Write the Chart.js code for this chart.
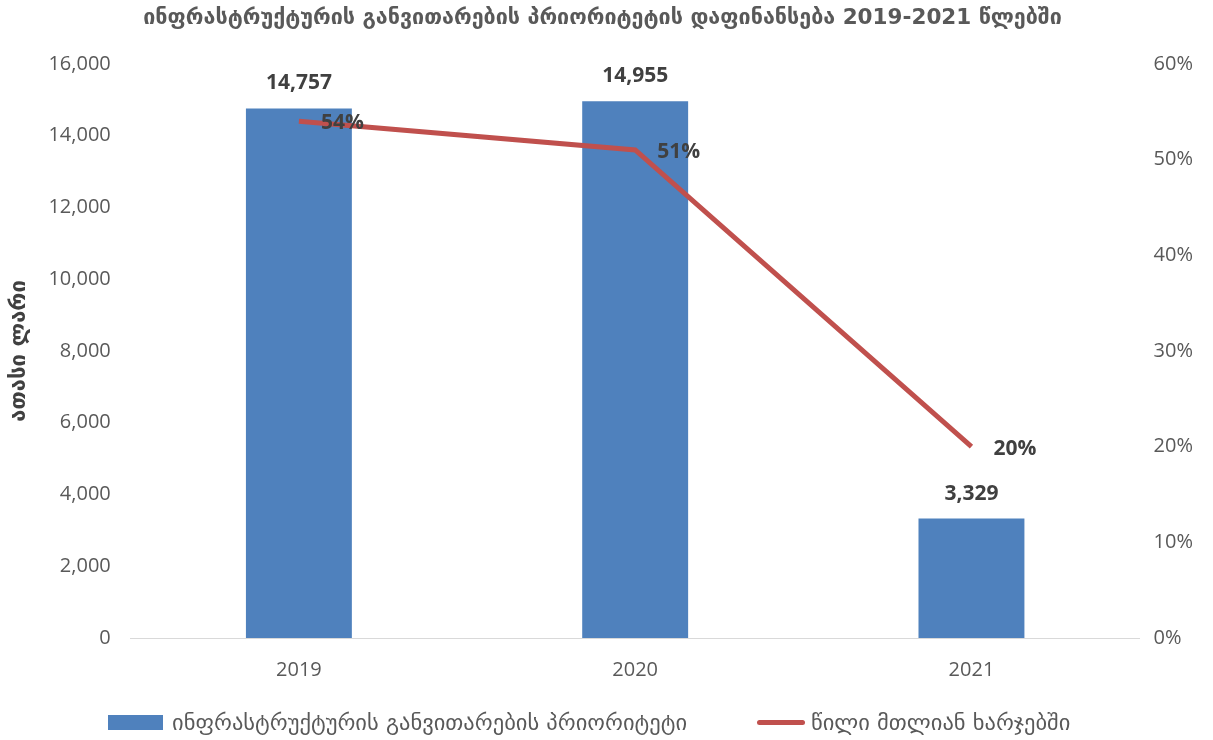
<!DOCTYPE html>
<html lang="ka">
<head>
<meta charset="UTF-8">
<title>ინფრასტრუქტურის პრიორიტეტი</title>
<script src="https://cdn.jsdelivr.net/npm/chart.js"></script>
<style>
    html, body { margin: 0; height: 100%; background: #fff; }
    #wrap { position: relative; width: 1213px; height: 740px; }
    #legend { position: absolute; top: 708px; left: 0; width: 1213px; font-family: 'DejaVu Sans', sans-serif; font-size: 22.5px; color: #595959; }
    .item { position: absolute; top: 0; display: flex; align-items: center; height: 28px; }
    .box { display: inline-block; width: 55px; height: 15px; background: #4F81BD; margin-right: 9px; }
    .ln { display: inline-block; width: 48px; height: 5px; border-radius: 3px; background: #C0504D; margin-right: 6px; }
</style>
</head>
<body>
<div id="wrap">
    <canvas id="chart" width="1213" height="740"></canvas>
    <div id="legend">
        <div class="item" style="left:108px"><span class="box"></span>ინფრასტრუქტურის განვითარების პრიორიტეტი</div>
        <div class="item" style="left:757px"><span class="ln"></span>წილი მთლიან ხარჯებში</div>
    </div>
</div>
<script>
    const years = ['2019', '2020', '2021'];
    const funding = [14757, 14955, 3329];          // ათასი ლარი
    const shareOfTotal = [0.54, 0.51, 0.20];       // წილი მთლიან ხარჯებში

    const labelFont = "bold 21px 'Open Sans', 'Liberation Sans', sans-serif";

    const valueLabels = {
        id: 'valueLabels',
        afterDatasetsDraw(chart) {
            const ctx = chart.ctx;
            ctx.save();
            ctx.font = labelFont;
            ctx.fillStyle = '#404040';
            ctx.textBaseline = 'middle';
            chart.getDatasetMeta(0).data.forEach((bar, i) => {
                ctx.textAlign = 'center';
                ctx.fillText(funding[i].toLocaleString('en-US'), bar.x, bar.y - 25);
            });
            chart.getDatasetMeta(1).data.forEach((pt, i) => {
                ctx.textAlign = 'left';
                ctx.fillText(Math.round(shareOfTotal[i] * 100) + '%', pt.x + 22, pt.y + 2);
            });
            ctx.restore();
        }
    };

    const tickFont = { family: "'Open Sans', 'Liberation Sans', sans-serif", size: 20 };

    new Chart(document.getElementById('chart').getContext('2d'), {
        type: 'bar',
        data: {
            labels: years,
            datasets: [{
                label: 'ინფრასტრუქტურის განვითარების პრიორიტეტი',
                data: funding,
                backgroundColor: '#4F81BD',
                barPercentage: 0.315,
                categoryPercentage: 1,
                yAxisID: 'y',
                order: 2
            }, {
                type: 'line',
                label: 'წილი მთლიან ხარჯებში',
                data: shareOfTotal,
                borderColor: '#C0504D',
                borderWidth: 5,
                pointRadius: 0,
                tension: 0,
                yAxisID: 'y1',
                order: 1
            }]
        },
        options: {
            responsive: false,
            animation: false,
            layout: { padding: { left: 6, right: 14, top: 0, bottom: 38 } },
            plugins: {
                legend: { display: false },
                tooltip: { enabled: false },
                title: {
                    display: true,
                    text: 'ინფრასტრუქტურის განვითარების პრიორიტეტის დაფინანსება 2019-2021 წლებში',
                    color: '#595959',
                    font: { family: "'DejaVu Sans', sans-serif", size: 21.5, weight: 'bold' },
                    padding: { top: 6, bottom: 32 }
                }
            },
            scales: {
                x: {
                    grid: { display: false, drawTicks: false },
                    border: { color: '#D9D9D9', width: 1 },
                    ticks: { color: '#595959', font: tickFont, padding: 20 }
                },
                y: {
                    position: 'left',
                    min: 0, max: 16000,
                    grid: { display: false },
                    border: { display: false },
                    ticks: { stepSize: 2000, color: '#595959', font: tickFont, padding: 12,
                        callback: v => v.toLocaleString('en-US') },
                    title: {
                        display: true,
                        text: 'ათასი ლარი',
                        color: '#404040',
                        font: { family: "'DejaVu Sans', sans-serif", size: 22, weight: 'bold' },
                        padding: { top: 0, bottom: 4 }
                    }
                },
                y1: {
                    position: 'right',
                    min: 0, max: 0.6,
                    grid: { display: false },
                    border: { display: false },
                    ticks: { stepSize: 0.1, color: '#595959', font: tickFont, padding: 6,
                        callback: v => Math.round(v * 100) + '%' }
                }
            }
        },
        plugins: [valueLabels]
    });
</script>
</body>
</html>
